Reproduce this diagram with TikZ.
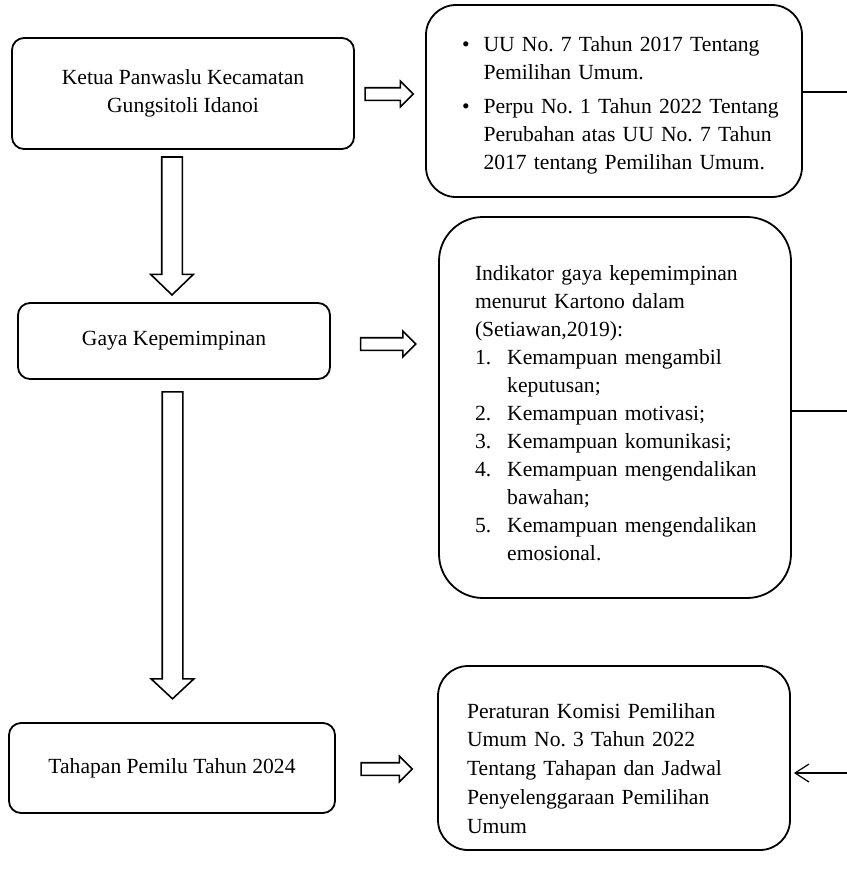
\documentclass[tikz,border=0pt]{standalone}
\usepackage{fontspec}
\setmainfont{Liberation Serif}
\frenchspacing
\usetikzlibrary{shapes.arrows, arrows.meta}
\tikzstyle{leftbox} = [rectangle, rounded corners=6pt, draw=black, line width=0.9pt, align=center, inner sep=0pt]
\tikzstyle{rightbox} = [rectangle, draw=black, line width=0.9pt, align=left, inner sep=0pt]
\tikzstyle{blockarrow} = [single arrow, draw=black, line width=0.8pt, fill=white]
\tikzstyle{link} = [line width=0.6pt]

\begin{document}
\begin{tikzpicture}[x=0.5pt,y=-0.5pt,font=\fontsize{10.8}{14}\selectfont]
\useasboundingbox (0,0) rectangle (847,874);

\node (ketua) [leftbox, minimum width=171pt, minimum height=55.5pt] at (183,93.5) {Ketua Panwaslu Kecamatan\\ Gungsitoli Idanoi};
\node (gaya) [leftbox, minimum width=156pt, minimum height=38pt] at (174,341) {Gaya Kepemimpinan};
\node (tahapan) [leftbox, minimum width=163pt, minimum height=45pt] at (172,768) {Tahapan Pemilu Tahun 2024};

\node (uu) [rightbox, rounded corners=15pt, minimum width=188pt, minimum height=96pt, text width=152pt] at (614,101) {%
\begin{tabular}{@{}l@{\hspace{7pt}}l@{}}
\rule{0pt}{14pt}\textbullet & UU No. 7 Tahun 2017 Tentang\\
 & Pemilihan Umum.\\[3pt]
\textbullet & Perpu No. 1 Tahun 2022 Tentang\\
 & Perubahan atas UU No. 7 Tahun\\
 & 2017 tentang Pemilihan Umum.
\end{tabular}};

\node (indikator) [rightbox, rounded corners=22pt, minimum width=176pt, minimum height=190.5pt, text width=140pt] at (615,407.5) {%
\begin{tabular}{@{}l@{\hspace{8pt}}l@{}}
\multicolumn{2}{@{}l@{}}{\rule{0pt}{17pt}Indikator gaya kepemimpinan}\\
\multicolumn{2}{@{}l@{}}{menurut Kartono dalam}\\
\multicolumn{2}{@{}l@{}}{(Setiawan,2019):}\\
1. & Kemampuan mengambil\\
 & keputusan;\\
2. & Kemampuan motivasi;\\
3. & Kemampuan komunikasi;\\
4. & Kemampuan mengendalikan\\
 & bawahan;\\
5. & Kemampuan mengendalikan\\
 & emosional.
\end{tabular}};

\node (pkpu) [rightbox, rounded corners=15pt, minimum width=176pt, minimum height=92pt, text width=147pt] at (614,758) {%
\fontsize{10.8}{14.4}\selectfont
\begin{tabular}{@{}l@{}}
\rule{0pt}{22pt}Peraturan Komisi Pemilihan\\
Umum No. 3 Tahun 2022\\
Tentang Tahapan dan Jadwal\\
Penyelenggaraan Pemilihan\\
Umum
\end{tabular}};

% block arrows
\node (down1) [blockarrow, rotate=-90, inner sep=4.75pt, minimum height=69pt, minimum width=20.5pt, single arrow head extend=5.5pt, single arrow tip angle=92] at (172,221) {};
\node (down2) [blockarrow, rotate=-90, inner sep=4.75pt, minimum height=153.5pt, minimum width=20.5pt, single arrow head extend=5.5pt, single arrow tip angle=94] at (172.5,540.5) {};
\node (right1) [blockarrow, inner sep=2.75pt, minimum height=24pt, minimum width=12pt, single arrow head extend=3.25pt, single arrow tip angle=90] at (386,94) {};
\node (right2) [blockarrow, inner sep=2.75pt, minimum height=27.5pt, minimum width=12pt, single arrow head extend=3.25pt, single arrow tip angle=90] at (385,344) {};
\node (right3) [blockarrow, inner sep=2.75pt, minimum height=25.5pt, minimum width=12pt, single arrow head extend=3.25pt, single arrow tip angle=90] at (383.5,769) {};

% lines at the right edge
\coordinate (uuout) at (847,92);
\coordinate (indout) at (847,411);
\coordinate (pkpuin) at (847,773);
\draw[link] (uu.east |- uuout) -- (uuout);
\draw[link] (indikator.east |- indout) -- (indout);
\draw[link,-{Straight Barb[length=7pt,width=9pt]}] (pkpuin) -- ([xshift=1.5pt]pkpu.east |- pkpuin);

\end{tikzpicture}
\end{document}
